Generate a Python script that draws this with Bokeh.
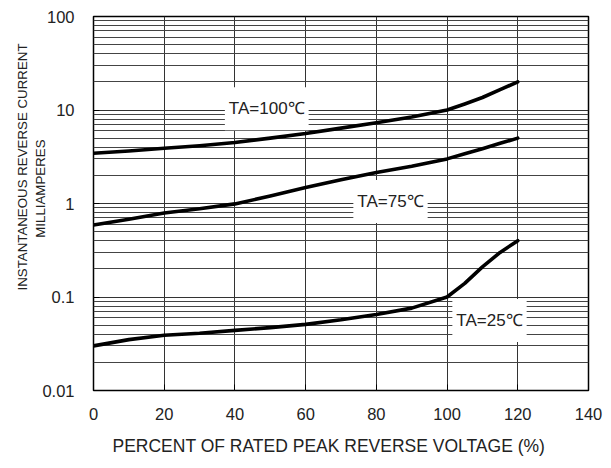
from bokeh.plotting import figure
from bokeh.models import FixedTicker, Label, ColumnDataSource, Title
from bokeh.embed import file_html
from bokeh.resources import INLINE

# ---- data ----
x_ticks = [0, 20, 40, 60, 80, 100, 120, 140]
y_ticks = [0.01, 0.1, 1, 10, 100]
y_tick_labels = ["0.01", "0.1", "1", "10", "100"]

pct = [0, 10, 20, 30, 40, 50, 60, 70, 80, 90, 100, 105, 110, 115, 120]
ta100 = [3.45, 3.65, 3.9, 4.15, 4.5, 5.0, 5.6, 6.4, 7.3, 8.4, 10.0, 11.6, 13.6, 16.5, 20.0]
ta75 = [0.59, 0.68, 0.79, 0.88, 0.99, 1.2, 1.48, 1.8, 2.15, 2.5, 3.0, 3.4, 3.85, 4.4, 5.0]
ta25 = [0.030, 0.035, 0.039, 0.041, 0.044, 0.047, 0.051, 0.057, 0.065, 0.076, 0.10, 0.14, 0.21, 0.30, 0.40]

series_labels = ["TA=100\u2103", "TA=75\u2103", "TA=25\u2103"]

FONT = "Liberation Sans"
INK = "#222222"
W, H = 611, 468

p = figure(width=W, height=H, x_range=(0, 140), y_range=(0.01, 100),
           y_axis_type="log", output_backend="svg", toolbar_location=None,
           min_border_left=93, min_border_right=23, min_border_top=16,
           min_border_bottom=78)
p.background_fill_color = "white"
p.border_fill_color = "white"
p.outline_line_color = "black"
p.outline_line_width = 1.5

# ticks
p.xaxis.ticker = FixedTicker(ticks=x_ticks)
minor = [m * d for d in y_ticks[:-1] for m in range(2, 10)]
p.yaxis.ticker = FixedTicker(ticks=y_ticks, minor_ticks=minor)
p.yaxis.major_label_overrides = {v: s for v, s in zip(y_ticks, y_tick_labels)}

for ax in (p.xaxis[0], p.yaxis[0]):
    ax.axis_line_color = None
    ax.major_tick_in = 6
    ax.major_tick_out = 0
    ax.major_tick_line_color = "black"
    ax.minor_tick_line_color = None
    ax.major_label_text_font = FONT
    ax.major_label_text_font_size = "16.5px"
    ax.major_label_text_color = INK
    ax.major_label_text_font_style = "normal"

p.xaxis.major_label_standoff = 17
p.yaxis.major_label_standoff = 15

# x-axis title (slightly left of centre, as in the reference)
p.add_layout(Title(text="PERCENT OF RATED PEAK REVERSE VOLTAGE (%)",
                   align="left", offset=19, standoff=22,
                   text_font=FONT, text_font_size="17.5px",
                   text_font_style="normal", text_color=INK), "below")

# y-axis title (two lines, stacked outward from the tick labels)
p.add_layout(Title(text="MILLIAMPERES", align="right", offset=123,
                   standoff=-16, text_font=FONT, text_font_size="13.3px",
                   text_font_style="normal", text_color=INK), "left")
p.add_layout(Title(text="INSTANTANEOUS REVERSE CURRENT", align="right",
                   offset=27, standoff=18, text_font=FONT,
                   text_font_size="13.3px", text_font_style="normal",
                   text_color=INK), "left")

# grid
p.xgrid.grid_line_color = "#333333"
p.xgrid.grid_line_width = 1
p.ygrid.grid_line_color = "#333333"
p.ygrid.grid_line_width = 1
p.ygrid.minor_grid_line_color = "#444444"
p.ygrid.minor_grid_line_width = 1

# curves
for ys in (ta100, ta75, ta25):
    src = ColumnDataSource(dict(x=pct, y=ys))
    p.line("x", "y", source=src, line_color="black", line_width=3.6,
           line_join="round", line_cap="round")

# curve labels with white boxes
for text, lx, ly in zip(series_labels, [49, 84, 112], [10.3, 1.05, 0.056]):
    p.add_layout(Label(x=lx, y=ly, text=text, text_font=FONT,
                       text_font_size="17px", text_color=INK,
                       text_align="center", text_baseline="middle",
                       background_fill_color="white",
                       padding=(4, 12)))

open("out.html", "w").write(file_html(p, INLINE))
